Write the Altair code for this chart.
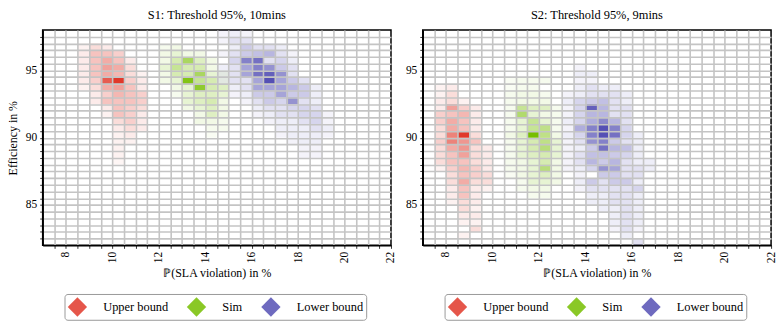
import altair as alt
import numpy as np
import pandas as pd

SERIES = ["Upper bound", "Sim", "Lower bound"]
COLORS = ["#E0382A", "#76BE00", "#5550B4"]
BIN = 0.5

X_LABELS = [8, 10, 12, 14, 16, 18, 20, 22]
Y_LABELS = [85, 90, 95]

# (bin low y, first bin low x, intensities of consecutive x bins)
S1_UPPER = [
    (96.5, 8.5, [0.3, 1, 0.5]),
    (96.0, 8.5, [0.5, 2, 2, 1.5]),
    (95.5, 8.5, [0.5, 2, 3, 2, 0.5]),
    (95.0, 8.5, [0.5, 2, 3.5, 3, 1]),
    (94.5, 8.5, [0.5, 2, 3, 2.5, 1, 0.3]),
    (94.0, 8.5, [0.5, 1.5, 7, 9, 1.5, 0.5]),
    (93.5, 8.5, [0.3, 1, 3, 3.5, 2, 0.5]),
    (93.0, 9.0, [0.5, 1.5, 2.5, 2, 1.5]),
    (92.5, 9.0, [0.5, 2, 2, 2, 1.5]),
    (92.0, 9.5, [0.5, 2, 1.5, 1]),
    (91.5, 9.5, [0.3, 2, 1.5, 0.5]),
    (91.0, 10.0, [1, 1.5, 0.5]),
    (90.5, 10.0, [0.5, 1, 0.5]),
    (90.0, 10.0, [0.3, 0.5]),
    (89.5, 10.0, [0.3, 0.3]),
    (89.0, 10.0, [0.3]),
    (88.5, 10.0, [0.3]),
    (88.0, 10.0, [0.2]),
]
S1_SIM = [
    (96.5, 12.0, [0.3, 0.5]),
    (96.0, 12.0, [0.5, 1, 0.5, 0.5]),
    (95.5, 12.0, [0.5, 2, 5, 1.5, 0.5]),
    (95.0, 12.0, [1, 3, 2, 2, 0.5]),
    (94.5, 12.0, [0.5, 2, 2, 5, 1, 0.5]),
    (94.0, 12.0, [0.5, 1, 8, 3, 2, 0.5]),
    (93.5, 12.5, [0.5, 1, 7, 2, 1.5]),
    (93.0, 12.5, [0.3, 1, 1.5, 1.5, 1]),
    (92.5, 13.0, [1, 1.5, 2, 0.5]),
    (92.0, 13.0, [0.5, 1, 1.5, 0.5]),
    (91.5, 13.5, [0.5, 1.5, 0.5]),
    (91.0, 13.5, [0.5, 0.5, 0.3]),
    (90.5, 14.0, [0.3, 0.3]),
    (90.0, 14.0, [0.2]),
]
S1_LOWER = [
    (97.5, 14.5, [0.3, 0.5, 0.3]),
    (97.0, 14.5, [0.3, 1, 1]),
    (96.5, 15.0, [0.5, 2, 1, 1, 0.5]),
    (96.0, 14.5, [0.3, 1, 2, 2.5, 3, 1, 0.3]),
    (95.5, 15.0, [1.5, 6, 7, 1, 1.5, 0.5]),
    (95.0, 14.5, [0.5, 1, 4, 6, 5, 2, 1]),
    (94.5, 14.5, [0.5, 1, 4, 7, 8, 5, 1]),
    (94.0, 14.5, [0.5, 1, 1, 4, 9, 4, 2, 1]),
    (93.5, 15.0, [0.5, 1, 4, 4, 4, 3, 2, 0.5]),
    (93.0, 15.0, [0.3, 0.5, 2, 2, 4, 2, 2, 0.5]),
    (92.5, 15.5, [0.3, 1, 2, 1.5, 5, 1, 0.5]),
    (92.0, 16.0, [0.5, 1, 1, 1.5, 1.5, 1]),
    (91.5, 16.0, [0.3, 0.5, 1, 1, 1.5, 1.5, 0.3]),
    (91.0, 16.5, [0.3, 0.5, 0.5, 1, 1.5, 0.3]),
    (90.5, 17.0, [0.5, 0.5, 0.5, 1, 0.5]),
    (90.0, 17.0, [0.3, 0.5, 0.5, 0.5, 0.3]),
    (89.5, 17.5, [0.3, 0.5, 0.5]),
    (89.0, 18.0, [0.3, 0.3]),
    (88.5, 18.0, [0.3, 0.3]),
]

S2_UPPER = [
    (93.5, 7.5, [0.3, 0.5]),
    (93.0, 7.5, [0.3, 1]),
    (92.5, 7.5, [0.5, 1, 0.3]),
    (92.0, 7.5, [0.5, 3.5, 1.5, 0.5]),
    (91.5, 7.5, [1.5, 2, 2.5, 0.5]),
    (91.0, 7.5, [1.5, 3, 2, 0.5]),
    (90.5, 7.5, [1, 3, 2, 0.5]),
    (90.0, 7.5, [1, 5, 9, 1]),
    (89.5, 7.5, [1.5, 5, 4, 2]),
    (89.0, 7.5, [1, 3, 4, 1, 0.5]),
    (88.5, 7.5, [1, 2, 3.5, 1, 0.5]),
    (88.0, 7.5, [1, 2, 2, 1, 0.5]),
    (87.5, 7.5, [0.3, 1.5, 2.5, 1.5, 0.5]),
    (87.0, 8.0, [1, 2, 1.5, 1]),
    (86.5, 8.0, [1, 3, 1, 1]),
    (86.0, 8.0, [0.5, 2, 0.5, 0.3]),
    (85.5, 8.0, [0.5, 2, 0.5]),
    (85.0, 8.0, [0.3, 1, 0.5]),
    (84.5, 8.5, [1, 0.3]),
    (84.0, 8.5, [0.5, 0.5]),
    (83.5, 8.5, [0.3, 0.3]),
    (83.0, 9.0, [1]),
    (82.5, 8.5, [0.3]),
]
S2_SIM = [
    (94.0, 10.5, [0.2, 0.3, 0.3, 0.3]),
    (93.5, 10.5, [0.2, 0.3, 0.3]),
    (93.0, 10.5, [0.3, 0.5, 0.5, 0.3]),
    (92.5, 10.5, [0.3, 0.5, 0.5, 0.5]),
    (92.0, 10.5, [0.3, 3, 1.5, 1.5, 0.3]),
    (91.5, 10.5, [0.3, 4.5, 1, 0.5, 0.3]),
    (91.0, 10.5, [0.3, 1, 3, 1, 0.3]),
    (90.5, 10.5, [0.3, 1, 3, 3.5, 0.3]),
    (90.0, 10.5, [0.5, 1.5, 9, 3.5, 0.5]),
    (89.5, 10.5, [0.3, 1, 2, 3.5, 1]),
    (89.0, 10.5, [0.3, 1, 2, 4, 1]),
    (88.5, 10.5, [0.3, 1, 1.5, 2, 1]),
    (88.0, 10.5, [0.3, 0.5, 1, 2, 0.5]),
    (87.5, 10.5, [0.3, 0.5, 1, 4, 0.5]),
    (87.0, 10.5, [0.2, 0.5, 1, 1.5, 0.5]),
    (86.5, 11.0, [0.3, 1, 1, 0.5]),
    (86.0, 11.0, [0.3, 0.5, 0.5]),
    (85.5, 11.5, [0.3, 0.3]),
]
S2_LOWER = [
    (95.0, 13.5, [0.3]),
    (94.5, 13.5, [0.5, 0.5]),
    (94.0, 13.5, [0.3, 0.3]),
    (93.5, 13.5, [0.5, 1, 0.5, 0.5]),
    (93.0, 13.0, [0.3, 0.5, 1, 1, 1, 0.5]),
    (92.5, 13.0, [0.5, 1.5, 2, 2.5, 1, 0.5]),
    (92.0, 13.0, [0.3, 1.5, 8, 3, 1, 1]),
    (91.5, 13.0, [0.3, 1.5, 3, 3, 1, 1]),
    (91.0, 13.0, [0.5, 1.5, 3.5, 5.5, 3, 1]),
    (90.5, 13.0, [0.3, 3.5, 6, 9, 6, 1.5]),
    (90.0, 13.0, [0.5, 1.5, 6, 9, 7, 1.5, 0.5]),
    (89.5, 13.0, [0.3, 1, 5, 6, 2, 1, 0.5]),
    (89.0, 13.0, [0.3, 0.5, 2, 7, 3, 2.5, 0.5]),
    (88.5, 13.0, [0.3, 1, 2.5, 2.5, 2, 1.5, 0.5]),
    (88.0, 13.0, [0.3, 1, 3, 2, 3, 1, 0.5, 0.5]),
    (87.5, 13.0, [0.3, 0.5, 1.5, 5, 4, 1, 1, 0.5]),
    (87.0, 13.5, [0.3, 0, 2, 2, 1, 1]),
    (86.5, 13.5, [0.5, 2, 1, 2, 2, 0.5]),
    (86.0, 13.5, [0.3, 1, 1, 1, 1, 1.5]),
    (85.5, 14.0, [0.5, 0.5, 1, 1, 0.5]),
    (85.0, 14.0, [0.5, 0.5, 1, 1, 0.5]),
    (84.5, 14.5, [0.5, 0.5, 1, 0.5]),
    (84.0, 15.0, [0.5, 1, 0.5]),
    (83.5, 15.0, [0.5, 1, 0.5]),
    (83.0, 15.0, [0.3, 1, 0.3]),
    (82.5, 15.5, [0.5]),
    (82.0, 16.0, [1]),
]


def expand(series, rows):
    out = []
    for y0, x0, vals in rows:
        for i, v in enumerate(vals):
            if v > 0:
                xs = x0 + BIN * i
                out.append(dict(series=series, x=xs, x2=xs + BIN, y=y0, y2=y0 + BIN, v=v))
    return out


def frame(upper, sim, lower):
    return pd.DataFrame(expand("Upper bound", upper) + expand("Sim", sim) + expand("Lower bound", lower))


X_GRID = [float(v) for v in np.arange(7.5, 22.01, 0.5)]
Y_GRID = [float(v) for v in np.arange(82.5, 97.51, 0.5)]

FONT = "Liberation Serif, Times New Roman, serif"


def panel(df, title, show_ytitle):
    xaxis = alt.Axis(
        values=X_GRID,
        labelExpr="indexof(" + str(X_LABELS) + ", datum.value) >= 0 ? format(datum.value, 'd') : ''",
        labelAngle=270,
        labelOverlap=False,
        labelFlush=False,
        gridOpacity={"condition": {"test": "datum.value >= 22", "value": 0}, "value": 1},
        zindex=1,
    )
    yaxis = alt.Axis(
        values=Y_GRID,
        labelExpr="indexof(" + str(Y_LABELS) + ", datum.value) >= 0 ? format(datum.value, 'd') : ''",
        labelOverlap=False,
        labelFlush=False,
        zindex=1,
    )
    yenc = dict(scale=alt.Scale(domain=[82, 98], nice=False, zero=False), axis=yaxis)
    if show_ytitle:
        yenc["title"] = "Efficiency in %"
    else:
        yenc["title"] = None
    return alt.Chart(df).mark_rect(strokeWidth=0).encode(
        x=alt.X("x:Q", scale=alt.Scale(domain=[7, 22], nice=False, zero=False), axis=xaxis,
                title="\u2119(SLA violation) in %"),
        x2="x2:Q",
        y=alt.Y("y:Q", **yenc),
        y2="y2:Q",
        color=alt.Color(
            "series:N",
            scale=alt.Scale(domain=SERIES, range=COLORS),
            legend=alt.Legend(
                title=None, orient="none", legendX=22, legendY=266, direction="horizontal",
                columns=3, symbolType="diamond", symbolSize=380, symbolStrokeWidth=0,
                symbolOpacity=0.85, labelOffset=16, columnPadding=18, padding=3,
                strokeColor="#999999", cornerRadius=3, fillColor="white",
                labelFont=FONT, labelFontSize=12.5, labelColor="black",
            ),
        ),
        opacity=alt.Opacity("v:Q", scale=alt.Scale(type="pow", exponent=0.8, domain=[0, 9], range=[0, 1]),
                            legend=None),
    ).properties(width=351, height=217, title=title)


left = panel(frame(S1_UPPER, S1_SIM, S1_LOWER), "S1: Threshold 95%, 10mins", True)
right = panel(frame(S2_UPPER, S2_SIM, S2_LOWER), "S2: Threshold 95%, 9mins", False)

chart = alt.hconcat(left, right, spacing=6).resolve_legend(color="independent").properties(
    padding={"left": 5, "top": 6, "right": 2, "bottom": 0}
).configure_view(
    stroke="black", strokeWidth=1.5
).configure_axis(
    labelFont=FONT, labelFontSize=11.5, labelColor="black", labelPadding=3,
    titleFont=FONT, titleFontSize=12, titleFontWeight="normal", titleColor="black",
    tickColor="black", tickSize=3, tickWidth=0.8,
    domainColor="black", domainWidth=1.5,
    gridColor="#c4c4c4", gridWidth=1.6,
).configure_axisX(titlePadding=5).configure_axisY(titlePadding=6).configure_title(
    font=FONT, fontSize=12.5, fontWeight="normal", color="black", offset=9
)

chart.save("out.html", embed_options={"renderer": "svg", "actions": False})
